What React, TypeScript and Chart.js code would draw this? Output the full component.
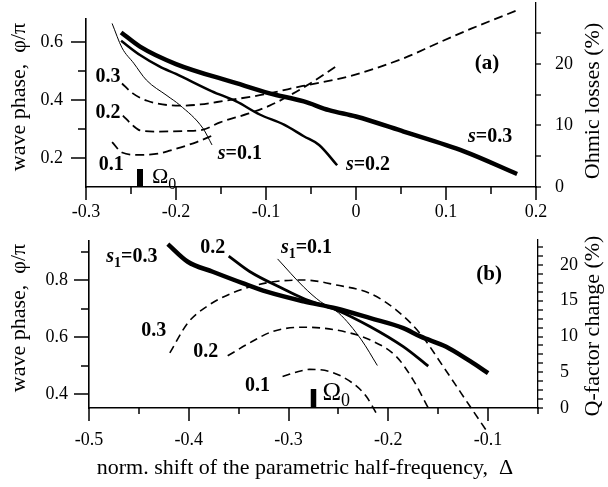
import React, { useEffect, useRef } from "react";
import { Chart, registerables } from "chart.js";

Chart.register(...registerables);

const FONT = "'Liberation Serif', 'Times New Roman', Times, serif";

// ---------------- Panel (a) ----------------
const aXMarks = [-0.3, -0.25, -0.2, -0.15, -0.1, -0.05, 0, 0.05, 0.1, 0.15, 0.2];
const aYMarks = [0.2, 0.3, 0.4, 0.5, 0.6];
const aY2Marks = [0, 5, 10, 15, 20, 25];

const aS01X = [-0.271, -0.26, -0.247, -0.233, -0.21, -0.196, -0.17, -0.16];
const aS01Y = [0.664, 0.58, 0.527, 0.469, 0.415, 0.383, 0.302, 0.245];
const aS02X = [-0.261, -0.24, -0.218, -0.2, -0.16, -0.133, -0.107, -0.08, -0.058, -0.041, -0.021];
const aS02Y = [0.604, 0.555, 0.515, 0.49, 0.43, 0.395, 0.35, 0.315, 0.275, 0.245, 0.175];
const aS03X = [-0.261, -0.24, -0.2, -0.133, -0.096, -0.058, -0.03, 0, 0.053, 0.12, 0.179];
const aS03Y = [0.633, 0.584, 0.524, 0.458, 0.423, 0.395, 0.365, 0.343, 0.291, 0.223, 0.145];

const aD01X = [-0.271, -0.26, -0.24, -0.22, -0.207, -0.177, -0.159];
const aD01Y = [7.3, 5.6, 5.2, 5.4, 5.9, 7.3, 8.4];
const aD02X = [-0.259, -0.248, -0.24, -0.22, -0.19, -0.17, -0.151, -0.12, -0.096, -0.051, -0.021];
const aD02Y = [11.6, 10.0, 9.2, 9.0, 9.1, 9.3, 10.5, 11.9, 13.2, 16.8, 19.7];
const aD03X = [-0.26, -0.248, -0.232, -0.196, -0.173, -0.146, -0.107, -0.059, -0.007, 0.053, 0.09, 0.128, 0.181];
const aD03Y = [16.8, 15.2, 14.0, 13.2, 13.4, 14.0, 14.9, 16.4, 18.0, 20.9, 23.3, 25.7, 28.8];

const aOmegaX = [-0.24, -0.24];
const aOmegaY = [0.1, 0.162];

const aLabels = [
  { kind: "num", text: "0.3", x: -0.2756, y: 0.486 },
  { kind: "num", text: "0.2", x: -0.2756, y: 0.359 },
  { kind: "num", text: "0.1", x: -0.272, y: 0.183 },
  { kind: "s", text: "0.1", x: -0.129, y: 0.221 },
  { kind: "s", text: "0.2", x: 0.0133, y: 0.183 },
  { kind: "s", text: "0.3", x: 0.149, y: 0.279 },
  { kind: "tag", text: "(a)", x: 0.1456, y: 0.531 },
  { kind: "omega", text: "Ω", x: -0.2267, y: 0.138, size: 22 },
];

// ---------------- Panel (b) ----------------
const bXMarks = [-0.5, -0.45, -0.4, -0.35, -0.3, -0.25, -0.2, -0.15, -0.1, -0.05];
const bYMarks = [0.4, 0.5, 0.6, 0.7, 0.8, 0.9];
const bY2Marks = [0, 1.25, 2.5, 3.75, 5, 6.25, 7.5, 8.75, 10, 11.25, 12.5, 13.75, 15, 16.25, 17.5, 18.75, 20, 21.25, 22.5];

const bS01X = [-0.311, -0.285, -0.268, -0.25, -0.227, -0.211];
const bS01Y = [0.874, 0.776, 0.724, 0.685, 0.59, 0.5];
const bS02X = [-0.36, -0.339, -0.306, -0.285, -0.252, -0.218, -0.185, -0.16];
const bS02Y = [0.884, 0.83, 0.77, 0.735, 0.695, 0.636, 0.566, 0.498];
const bS03X = [-0.421, -0.401, -0.376, -0.346, -0.322, -0.285, -0.252, -0.218, -0.185, -0.168, -0.142, -0.118, -0.1];
const bS03Y = [0.926, 0.864, 0.829, 0.789, 0.759, 0.725, 0.7, 0.666, 0.631, 0.602, 0.566, 0.515, 0.473];

const bD01X = [-0.306, -0.29, -0.279, -0.259, -0.236, -0.222, -0.211];
const bD01Y = [4.4, 5.1, 5.4, 5.1, 3.5, 1.6, -1.0];
const bD02X = [-0.361, -0.339, -0.316, -0.285, -0.252, -0.218, -0.192, -0.175, -0.16];
const bD02Y = [7.3, 9.1, 10.7, 11.3, 10.9, 9.5, 7.2, 3.9, 0];
const bD03X = [-0.419, -0.401, -0.382, -0.356, -0.322, -0.285, -0.252, -0.218, -0.192, -0.168, -0.145, -0.118, -0.102];
const bD03Y = [7.7, 11.9, 14.2, 16.1, 17.5, 17.9, 17.2, 16.0, 13.7, 10.4, 5.8, 0.2, -3.1];

const bOmegaX = [-0.275, -0.275];
const bOmegaY = [0.351, 0.4175];

const bLabels = [
  { kind: "s1", text: "0.3", x: -0.457, y: 0.888 },
  { kind: "num", text: "0.2", x: -0.376, y: 0.919 },
  { kind: "s1", text: "0.1", x: -0.282, y: 0.919 },
  { kind: "num", text: "0.3", x: -0.435, y: 0.625 },
  { kind: "num", text: "0.2", x: -0.383, y: 0.554 },
  { kind: "num", text: "0.1", x: -0.331, y: 0.432 },
  { kind: "tag", text: "(b)", x: -0.099, y: 0.825 },
  { kind: "omega", text: "Ω", x: -0.266, y: 0.407, size: 25 },
];

// ---------------- helpers ----------------
const pts = (xs: number[], ys: number[]) => xs.map((x, i) => ({ x, y: ys[i] }));

const solid = (xs: number[], ys: number[], w: number) => ({
  data: pts(xs, ys),
  yAxisID: "y",
  borderColor: "#000",
  borderWidth: w,
  pointRadius: 0,
  fill: false,
  cubicInterpolationMode: "monotone",
  clip: false,
});
const dashed = (xs: number[], ys: number[], w: number, dash: number[]) => ({
  data: pts(xs, ys),
  yAxisID: "y2",
  borderColor: "#000",
  borderWidth: w,
  borderDash: dash,
  pointRadius: 0,
  fill: false,
  cubicInterpolationMode: "monotone",
  clip: false,
});
const bar = (xs: number[], ys: number[], w: number) => ({
  data: pts(xs, ys),
  yAxisID: "y",
  borderColor: "#000",
  borderWidth: w,
  pointRadius: 0,
  fill: false,
  tension: 0,
  borderCapStyle: "butt",
  clip: false,
});

type Part = { t: string; f: string; dy?: number };

function drawParts(ctx: CanvasRenderingContext2D, parts: Part[], x: number, baseline: number, align: string) {
  let w = 0;
  for (const part of parts) {
    ctx.font = part.f;
    w += ctx.measureText(part.t).width;
  }
  let cx = align === "left" ? x : x - w / 2;
  ctx.textAlign = "left";
  ctx.textBaseline = "alphabetic";
  for (const part of parts) {
    ctx.font = part.f;
    ctx.fillText(part.t, cx, baseline + (part.dy || 0));
    cx += ctx.measureText(part.t).width;
  }
}

function drawLabel(ctx: CanvasRenderingContext2D, chart: any, L: any) {
  const px = chart.scales.x.getPixelForValue(L.x);
  const py = chart.scales.y.getPixelForValue(L.y);
  const B = (s: number) => `bold ${s}px ${FONT}`;
  const BI = (s: number) => `italic bold ${s}px ${FONT}`;
  let parts: Part[] = [];
  let size = 20;
  let align = "center";
  if (L.kind === "num") parts = [{ t: L.text, f: B(20) }];
  else if (L.kind === "s") parts = [{ t: "s", f: BI(20) }, { t: "=" + L.text, f: B(20) }];
  else if (L.kind === "s1")
    parts = [
      { t: "s", f: BI(20) },
      { t: "1", f: B(14), dy: 5 },
      { t: "=" + L.text, f: B(20) },
    ];
  else if (L.kind === "tag") {
    size = 21;
    parts = [{ t: L.text, f: B(21) }];
  } else {
    size = L.size;
    align = "left";
    parts = [
      { t: L.text, f: `${L.size}px ${FONT}` },
      { t: "0", f: `${Math.round(L.size * 0.72)}px ${FONT}`, dy: L.size * 0.24 },
    ];
  }
  drawParts(ctx, parts, px, py + size * 0.33, align);
}

function rotText(ctx: CanvasRenderingContext2D, text: string, x: number, y: number, size: number) {
  ctx.save();
  ctx.translate(x, y);
  ctx.rotate(-Math.PI / 2);
  ctx.font = `${size}px ${FONT}`;
  ctx.textAlign = "center";
  ctx.textBaseline = "middle";
  ctx.fillText(text, 0, 0);
  ctx.restore();
}

function makeDecor(cfg: any) {
  const xMarks: number[] = cfg.xMarks;
  const yMarks: number[] = cfg.yMarks;
  const y2Marks: number[] = cfg.y2Marks;
  return {
    id: "decor",
    afterDraw(chart: any) {
      const ctx: CanvasRenderingContext2D = chart.ctx;
      const ca = chart.chartArea;
      const xs = chart.scales.x;
      const ys = chart.scales.y;
      const ys2 = chart.scales.y2;
      const labeled = (scale: any, v: number) =>
        (scale.ticks || []).some((t: any) => Math.abs(t.value - v) < 1e-6);
      ctx.save();
      ctx.setLineDash([]);
      ctx.fillStyle = "#000";
      const L = Math.round(ca.left);
      const Bt = Math.round(ca.bottom);
      const R = Math.round(ca.right);
      const topPx = Math.round(ys.getPixelForValue(cfg.leftTop));
      ctx.fillRect(L - 1, topPx, 1.6, Bt - topPx + 1);
      for (let i = 0; i < xMarks.length; i++) {
        const v = xMarks[i];
        const px = Math.round(xs.getPixelForValue(v));
        const len = labeled(xs, v) ? cfg.xMajor : cfg.xMinor;
        ctx.fillRect(px - 0.75, Bt, 1.5, len);
      }
      for (let i = 0; i < yMarks.length; i++) {
        const v = yMarks[i];
        const py = Math.round(ys.getPixelForValue(v));
        const len = labeled(ys, v) ? cfg.yMajor : cfg.yMinor;
        ctx.fillRect(L - len, py - 0.75, len, 1.5);
      }
      for (let i = 0; i < y2Marks.length; i++) {
        const py = Math.round(ys2.getPixelForValue(y2Marks[i]));
        ctx.fillRect(R, py - 0.65, cfg.y2Len, 1.3);
      }
      for (const lab of cfg.labels) drawLabel(ctx, chart, lab);
      rotText(ctx, cfg.leftTitle, cfg.leftTitlePos[0], cfg.leftTitlePos[1], 22);
      rotText(ctx, cfg.rightTitle, cfg.rightTitlePos[0], cfg.rightTitlePos[1], 22);
      if (cfg.bottomTitle) {
        ctx.font = `22px ${FONT}`;
        ctx.textAlign = "center";
        ctx.textBaseline = "middle";
        ctx.fillText(cfg.bottomTitle, cfg.bottomTitlePos[0], cfg.bottomTitlePos[1]);
      }
      ctx.restore();
    },
  };
}

const zeroPad = (s: any) => {
  s.paddingTop = 0;
  s.paddingBottom = 0;
  s.paddingLeft = 0;
  s.paddingRight = 0;
};

function buildConfig(p: any) {
  const tickFont = { family: FONT, size: 18 };
  return {
    type: "line",
    data: { datasets: p.datasets },
    options: {
      responsive: false,
      animation: false,
      events: [],
      layout: { padding: { top: p.padTop, left: 0, right: 0, bottom: 0 } },
      plugins: { legend: { display: false }, tooltip: { enabled: false }, title: { display: false } },
      elements: { point: { radius: 0 }, line: { capBezierPoints: false } },
      scales: {
        x: {
          type: "linear",
          position: "bottom",
          min: p.xMin,
          max: p.xMax,
          grid: { display: false, drawTicks: false },
          border: { display: true, color: "#000", width: 1.5 },
          ticks: { stepSize: 0.1, padding: p.xPad, color: "#000", font: tickFont, includeBounds: false, maxRotation: 0 },
          afterFit: (s: any) => {
            s.height = p.xH;
            zeroPad(s);
          },
        },
        y: {
          type: "linear",
          position: "left",
          min: p.yMin,
          max: p.yMax,
          grid: { display: false, drawTicks: false },
          border: { display: false },
          ticks: { stepSize: 0.2, padding: p.yPad, color: "#000", font: tickFont, includeBounds: false },
          afterFit: (s: any) => {
            s.width = p.leftW;
            zeroPad(s);
          },
        },
        y2: {
          type: "linear",
          position: "right",
          min: 0,
          max: p.y2Max,
          grid: { display: false, drawTicks: false },
          border: { display: true, color: "#000", width: 1.3, dash: [6, 4] },
          ticks: { stepSize: p.y2Step, padding: p.y2Pad, color: "#000", font: tickFont, includeBounds: false },
          afterFit: (s: any) => {
            s.width = p.rightW;
            zeroPad(s);
          },
        },
      },
    },
    plugins: [makeDecor(p)],
  };
}

const panelA = {
  padTop: 3,
  xMin: -0.3,
  xMax: 0.2,
  yMin: 0.1,
  yMax: 0.1 + 184 / 290,
  y2Max: 184 / 6.16,
  y2Step: 10,
  xH: 43,
  leftW: 86,
  rightW: 72,
  xPad: 14,
  yPad: 23,
  y2Pad: 19,
  leftTop: 0.683,
  xMarks: aXMarks,
  yMarks: aYMarks,
  y2Marks: aY2Marks,
  xMajor: 13,
  xMinor: 7,
  yMajor: 15,
  yMinor: 8,
  y2Len: 5,
  labels: aLabels,
  leftTitle: "wave phase,  φ/π",
  leftTitlePos: [19, 97],
  rightTitle: "Ohmic losses (%)",
  rightTitlePos: [593, 101],
  datasets: [
    solid(aS03X, aS03Y, 4.5),
    solid(aS02X, aS02Y, 2.5),
    solid(aS01X, aS01Y, 1),
    dashed(aD01X, aD01Y, 1.8, [9, 5]),
    dashed(aD02X, aD02Y, 1.8, [9, 5]),
    dashed(aD03X, aD03Y, 1.8, [9, 5]),
    bar(aOmegaX, aOmegaY, 6),
  ],
};

const panelB = {
  padTop: 10,
  xMin: -0.5,
  xMax: -0.05,
  yMin: 0.4 - 14 / 285,
  yMax: 0.4 - 14 / 285 + 168 / 285,
  y2Max: 168 / 7.15,
  y2Step: 5,
  xH: 79,
  leftW: 89,
  rightW: 70,
  xPad: 21,
  yPad: 21,
  y2Pad: 22,
  leftTop: 0.4 - 14 / 285 + 168 / 285,
  xMarks: bXMarks,
  yMarks: bYMarks,
  y2Marks: bY2Marks,
  xMajor: 13,
  xMinor: 6,
  yMajor: 15,
  yMinor: 8,
  y2Len: 5,
  labels: bLabels,
  leftTitle: "wave phase,  φ/π",
  leftTitlePos: [19, 88],
  rightTitle: "Q-factor change (%)",
  rightTitlePos: [593, 96],
  bottomTitle: "norm. shift of the parametric half-frequency,  Δ",
  bottomTitlePos: [305, 238],
  datasets: [
    solid(bS03X, bS03Y, 4.5),
    solid(bS02X, bS02Y, 2.8),
    solid(bS01X, bS01Y, 1),
    dashed(bD01X, bD01Y, 1.6, [8, 5]),
    dashed(bD02X, bD02Y, 1.6, [8, 5]),
    dashed(bD03X, bD03Y, 1.6, [8, 5]),
    bar(bOmegaX, bOmegaY, 5.5),
  ],
};

function Panel({ cfg, top, height }: { cfg: any; top: number; height: number }) {
  const ref = useRef<HTMLCanvasElement | null>(null);
  useEffect(() => {
    if (!ref.current) return;
    const chart = new Chart(ref.current, buildConfig(cfg) as any);
    return () => chart.destroy();
  }, [cfg]);
  return (
    <canvas
      ref={ref}
      width={608}
      height={height}
      style={{ position: "absolute", left: 0, top, width: 608, height }}
    />
  );
}

export default function App() {
  return (
    <div style={{ position: "fixed", left: 0, top: 0, width: 608, height: 487, background: "#fff", overflow: "hidden" }}>
      <Panel cfg={panelA} top={0} height={230} />
      <Panel cfg={panelB} top={230} height={257} />
    </div>
  );
}
